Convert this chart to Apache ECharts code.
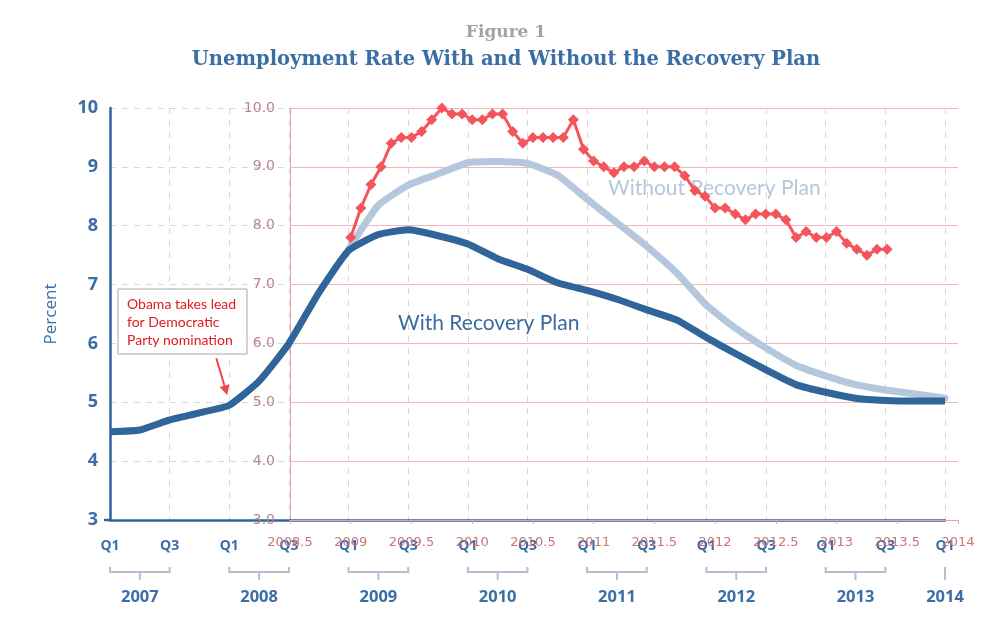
<!DOCTYPE html>
<html><head><meta charset="utf-8">
<script src="https://cdn.jsdelivr.net/npm/echarts@6/dist/echarts.min.js"></script>
<style>html,body{margin:0;padding:0;background:#fff}#c{width:987px;height:621px}</style>
</head><body><div id="c"></div>
<script>
// ---- data ----
const quarterLabels = ["Q1","Q2","Q3","Q4","Q1","Q2","Q3","Q4","Q1","Q2","Q3","Q4","Q1","Q2","Q3","Q4",
  "Q1","Q2","Q3","Q4","Q1","Q2","Q3","Q4","Q1","Q2","Q3","Q4","Q1"];
const yearLabels = ["2007","2008","2009","2010","2011","2012","2013","2014"];
const withPlan = [4.5,4.53,4.7,4.82, 4.95,5.36,6.0,6.86, 7.58,7.85,7.93,7.83, 7.69,7.44,7.26,7.03,
  6.9,6.75,6.57,6.4, 6.1,5.82,5.55,5.3, 5.17,5.07,5.03,5.02, 5.02];
const withoutPlan = [null,null,null,null, null,null,null,null, 7.6,8.35,8.69,8.88, 9.07,9.09,9.06,8.86,
  8.45,8.05,7.65,7.2, 6.65,6.25,5.92,5.63, 5.45,5.3,5.21,5.14, 5.07];
const actualMonths = ["2009-01","2009-02","2009-03","2009-04","2009-05","2009-06","2009-07","2009-08","2009-09","2009-10","2009-11","2009-12",
  "2010-01","2010-02","2010-03","2010-04","2010-05","2010-06","2010-07","2010-08","2010-09","2010-10","2010-11","2010-12",
  "2011-01","2011-02","2011-03","2011-04","2011-05","2011-06","2011-07","2011-08","2011-09","2011-10","2011-11","2011-12",
  "2012-01","2012-02","2012-03","2012-04","2012-05","2012-06","2012-07","2012-08","2012-09","2012-10","2012-11","2012-12",
  "2013-01","2013-02","2013-03","2013-04","2013-05","2013-06"];
const actualRate = [7.8,8.3,8.7,9.0,9.4,9.5,9.5,9.6,9.8,10.0,9.9,9.9,
  9.8,9.8,9.9,9.9,9.6,9.4,9.5,9.5,9.5,9.5,9.8,9.3,
  9.1,9.0,8.9,9.0,9.0,9.1,9.0,9.0,9.0,8.85,8.6,8.5,
  8.3,8.3,8.2,8.1,8.2,8.2,8.2,8.1,7.8,7.9,7.8,7.8,
  7.9,7.7,7.6,7.5,7.6,7.6];
const annotationLines = ["Obama takes lead","for Democratic","Party nomination"];

// ---- chart ----
const BLUE = '#2f6598', LIGHT = '#b5c7dc', RED = '#f4555c', LAB = '#3a6ea5';
const RGRID = '#f0b7bb';
const chart = echarts.init(document.getElementById('c'));
const actualPts = actualMonths.map((m, i) => {
  const [y, mo] = m.split('-').map(Number);
  return [y + (mo - 1) / 12, actualRate[i]];
});
chart.setOption({
  animation: false,
  backgroundColor: '#ffffff',
  grid: [
    {left: 110, right: 42, top: 108, bottom: 101, containLabel: false, outerBoundsMode: 'none'},
    {left: 290, right: 29, top: 108, bottom: 101, containLabel: false, outerBoundsMode: 'none'}
  ],
  xAxis: [
    {type: 'category', gridIndex: 0, data: quarterLabels, boundaryGap: false,
     axisLine: {lineStyle: {color: BLUE, width: 2.5}}, axisTick: {show: false},
     axisLabel: {interval: 1, color: LAB, fontWeight: 'bold', fontSize: 14, margin: 19, fontFamily: 'Open Sans'},
     splitLine: {show: true, interval: 1, lineStyle: {color: '#d8d8d8', type: [6, 6], width: 1}}},
    {type: 'value', gridIndex: 1, min: 2008.5, max: 2014, interval: 0.5,
     axisLine: {show: true, lineStyle: {color: '#e9a0a6', width: 1}},
     axisTick: {show: true, length: 4, lineStyle: {color: '#e9a0a6'}},
     axisLabel: {color: '#cc7479', fontSize: 13, margin: 16, fontFamily: 'DejaVu Sans', formatter: v => String(v)},
     splitLine: {show: false}}
  ],
  yAxis: [
    {type: 'value', gridIndex: 0, min: 3, max: 10, interval: 1,
     axisLine: {show: true, lineStyle: {color: BLUE, width: 2.5}}, axisTick: {show: false},
     axisLabel: {color: LAB, fontWeight: 'bold', fontSize: 18, margin: 12, fontFamily: 'Open Sans'},
     splitLine: {show: true, lineStyle: {color: '#d8d8d8', type: [6, 6], width: 1}}},
    {type: 'value', gridIndex: 1, min: 3, max: 10, interval: 1,
     axisLine: {show: true, lineStyle: {color: '#e9a0a6', width: 1}}, axisTick: {show: false},
     axisLabel: {color: '#b9858a', fontSize: 14, margin: 15, fontFamily: 'DejaVu Sans', formatter: v => v.toFixed(1)},
     splitLine: {show: true, lineStyle: {color: RGRID, width: 1}}}
  ],
  series: [
    {type: 'line', xAxisIndex: 0, yAxisIndex: 0, data: withoutPlan, symbol: 'none', smooth: 0.15,
     lineStyle: {color: LIGHT, width: 7, cap: 'round', join: 'round'}, z: 3},
    {type: 'line', xAxisIndex: 0, yAxisIndex: 0, data: withPlan, symbol: 'none', smooth: 0.15,
     lineStyle: {color: BLUE, width: 7, join: 'round'}, z: 4},
    {type: 'line', xAxisIndex: 1, yAxisIndex: 1, data: actualPts, symbol: 'diamond', symbolSize: 11,
     itemStyle: {color: RED}, lineStyle: {color: RED, width: 3}, z: 6}
  ]
});

// ---- annotations placed through the axes ----
const px = (i, v) => chart.convertToPixel({gridIndex: 0}, [i, v]);
const g = [];
g.push({type: 'text', x: 506, y: 33, style: {text: 'Figure 1', align: 'center', verticalAlign: 'middle', font: 'bold 17px "DejaVu Serif"', fill: '#a3a3a3'}});
g.push({type: 'text', x: 506, y: 60, style: {text: 'Unemployment Rate With and Without the Recovery Plan', align: 'center', verticalAlign: 'middle', font: 'bold 19.5px "DejaVu Serif"', fill: '#3a6ea5'}});
const BR = '#b3bfce';
yearLabels.forEach((yr, k) => {
  const i1 = k * 4, i3 = k * 4 + 2;
  const x1 = px(i1, 3)[0];
  if (i3 < quarterLabels.length) {
    const x3 = px(i3, 3)[0], xm = (x1 + x3) / 2;
    g.push({type: 'polyline', shape: {points: [[x1, 567], [x1, 572], [x3, 572], [x3, 567]]}, style: {stroke: BR, lineWidth: 2, fill: null}});
    g.push({type: 'line', shape: {x1: xm, y1: 572, x2: xm, y2: 580}, style: {stroke: BR, lineWidth: 2}});
    g.push({type: 'text', x: xm, y: 597, style: {text: yr, align: 'center', verticalAlign: 'middle', font: 'bold 16.5px "Open Sans"', fill: LAB}});
  } else {
    g.push({type: 'line', shape: {x1: x1, y1: 567, x2: x1, y2: 580}, style: {stroke: BR, lineWidth: 2}});
    g.push({type: 'text', x: x1, y: 597, style: {text: yr, align: 'center', verticalAlign: 'middle', font: 'bold 16.5px "Open Sans"', fill: LAB}});
  }
});
const origin = px(0, 3);
g.push({type: 'line', shape: {x1: origin[0] - 6, y1: origin[1], x2: origin[0], y2: origin[1]}, style: {stroke: BLUE, lineWidth: 2.5}, z: 50});
g.push({type: 'text', x: 51, y: 314, rotation: Math.PI / 2, style: {text: 'Percent', align: 'center', verticalAlign: 'middle', font: '17px "Open Sans"', fill: LAB}});
g.push({type: 'text', x: 608, y: 188, style: {text: 'Without Recovery Plan', align: 'left', verticalAlign: 'middle', font: '21px Lato', fill: LIGHT}, z: 5});
g.push({type: 'text', x: 398, y: 323, style: {text: 'With Recovery Plan', align: 'left', verticalAlign: 'middle', font: '21px Lato', fill: '#3a6aa0'}, z: 5});
// annotation box
g.push({type: 'rect', shape: {x: 118, y: 289, width: 129, height: 65}, style: {fill: '#ffffff', stroke: '#a8a8a8', lineWidth: 1}, z: 100});
annotationLines.forEach((t, k) => {
  g.push({type: 'text', x: 127, y: 304 + k * 18, style: {text: t, align: 'left', verticalAlign: 'middle', font: '14px Lato', fill: '#e3191c'}, z: 101});
});
// arrow pointing at the Q1 2008 point
const tip = px(4, withPlan[4]);
const T = [tip[0] - 2, tip[1] - 10];
const S = [T[0] - 11, T[1] - 37];
const dx = T[0] - S[0], dy = T[1] - S[1], L = Math.hypot(dx, dy), ux = dx / L, uy = dy / L;
const B = [T[0] - ux * 10, T[1] - uy * 10];
g.push({type: 'line', shape: {x1: S[0], y1: S[1], x2: B[0], y2: B[1]}, style: {stroke: '#f04848', lineWidth: 2}, z: 101});
g.push({type: 'polygon', shape: {points: [T, [B[0] - uy * 5, B[1] + ux * 5], [B[0] + uy * 5, B[1] - ux * 5]]}, style: {fill: '#f04848'}, z: 101});
chart.setOption({graphic: g});
</script></body></html>
